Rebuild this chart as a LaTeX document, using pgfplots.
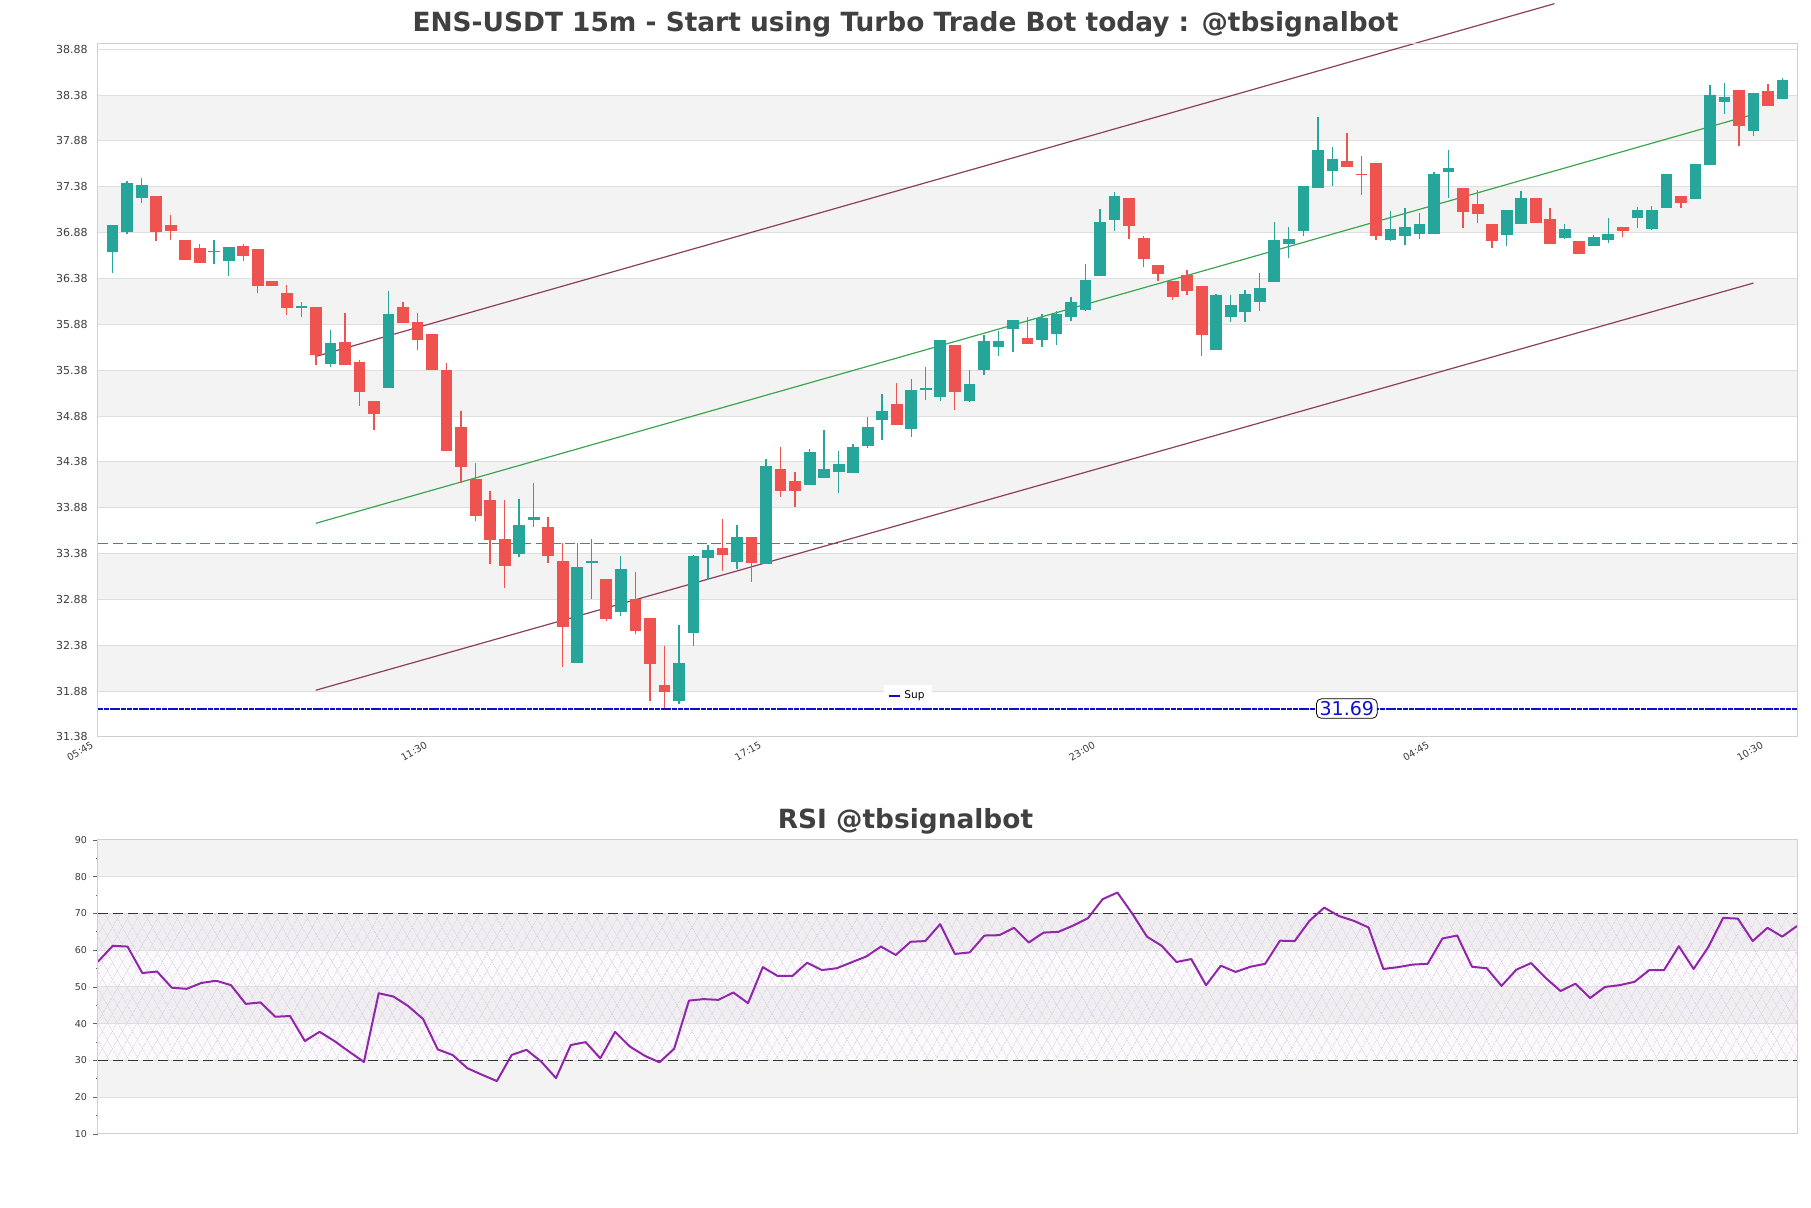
\documentclass[border=0pt]{standalone}
\usepackage{fontspec}
\setmainfont{DejaVu Sans}
\usepackage{pgfplots}
\usepackage{pgfplotstable}
\pgfplotsset{compat=1.18}
\usetikzlibrary{patterns.meta}

\definecolor{cgreen}{RGB}{38,166,154}
\definecolor{cred}{RGB}{239,83,80}
\definecolor{bandc}{RGB}{243,243,243}
\definecolor{gridc}{RGB}{222,222,222}
\definecolor{axisc}{RGB}{208,208,208}
\definecolor{tickc}{RGB}{60,60,60}
\definecolor{titlec}{RGB}{64,64,64}
\definecolor{chanc}{RGB}{140,62,92}
\definecolor{midc}{RGB}{60,165,80}
\definecolor{supc}{RGB}{15,15,200}
\definecolor{lblue}{RGB}{30,140,200}
\definecolor{rsic}{RGB}{145,38,170}
\definecolor{hatchc}{RGB}{208,192,220}
\definecolor{dashc}{RGB}{50,50,50}

\pgfplotstableread{
i o h l c
0 36.68 36.96 36.44 36.96
1 36.89 37.44 36.87 37.42
2 37.26 37.48 37.20 37.39
3 37.28 37.28 36.79 36.89
4 36.96 37.07 36.80 36.90
5 36.79 36.79 36.59 36.59
6 36.71 36.76 36.55 36.55
7 36.67 36.80 36.54 36.68
8 36.575 36.72 36.41 36.72
9 36.73 36.76 36.575 36.63
10 36.70 36.70 36.22 36.30
11 36.35 36.35 36.30 36.31
12 36.22 36.31 35.98 36.065
13 36.06 36.12 35.96 36.075
14 36.06 36.06 35.44 35.55
15 35.45 35.82 35.42 35.67
16 35.68 36.00 35.44 35.44
17 35.47 35.49 34.99 35.15
18 35.04 35.04 34.73 34.905
19 35.19 36.24 35.19 35.99
20 36.07 36.12 35.90 35.905
21 35.905 36.00 35.60 35.72
22 35.775 35.775 35.39 35.39
23 35.38 35.46 34.51 34.51
24 34.76 34.93 34.15 34.33
25 34.19 34.37 33.73 33.80
26 33.96 34.06 33.27 33.54
27 33.53 33.96 33.00 33.25
28 33.38 33.98 33.34 33.69
29 33.75 34.15 33.67 33.78
30 33.665 33.78 33.28 33.36
31 33.30 33.50 32.14 32.59
32 32.19 33.49 32.19 33.23
33 33.28 33.54 32.88 33.29
34 33.10 33.10 32.64 32.67
35 32.75 33.35 32.70 33.21
36 32.88 33.18 32.50 32.54
37 32.67 32.67 31.77 32.18
38 31.94 32.37 31.69 31.88
39 31.78 32.60 31.74 32.18
40 32.52 33.36 32.37 33.35
41 33.335 33.47 33.09 33.42
42 33.44 33.76 33.19 33.37
43 33.30 33.69 33.21 33.56
44 33.56 33.56 33.07 33.28
45 33.27 34.41 33.27 34.33
46 34.30 34.54 34.00 34.07
47 34.17 34.27 33.89 34.07
48 34.13 34.52 34.13 34.48
49 34.21 34.73 34.21 34.30
50 34.28 34.50 34.04 34.35
51 34.26 34.57 34.26 34.54
52 34.56 34.87 34.53 34.76
53 34.84 35.12 34.62 34.93
54 35.01 35.24 34.79 34.79
55 34.74 35.28 34.65 35.16
56 35.17 35.41 35.06 35.18
57 35.09 35.71 35.04 35.70
58 35.65 35.65 34.95 35.15
59 35.05 35.38 35.03 35.22
60 35.39 35.76 35.33 35.69
61 35.64 35.81 35.53 35.69
62 35.84 35.92 35.58 35.92
63 35.73 35.96 35.67 35.67
64 35.72 35.99 35.63 35.95
65 35.78 36.03 35.66 35.99
66 35.97 36.18 35.92 36.12
67 36.04 36.54 36.03 36.36
68 36.41 37.135 36.41 36.996
69 37.02 37.32 36.90 37.28
70 37.25 37.25 36.81 36.96
71 36.82 36.84 36.50 36.60
72 36.52 36.52 36.35 36.44
73 36.35 36.35 36.145 36.19
74 36.41 36.47 36.20 36.25
75 36.29 36.30 35.535 35.77
76 35.61 36.21 35.61 36.20
77 35.97 36.20 35.91 36.09
78 36.02 36.25 35.91 36.21
79 36.13 36.44 36.02 36.27
80 36.35 37.00 36.35 36.80
81 36.76 36.94 36.60 36.81
82 36.90 37.38 36.84 37.38
83 37.37 38.145 37.37 37.78
84 37.56 37.81 37.39 37.68
85 37.66 37.97 37.60 37.60
86 37.52 37.72 37.295 37.51
87 37.63 37.63 36.80 36.85
88 36.81 37.12 36.79 36.91
89 36.85 37.15 36.75 36.94
90 36.87 37.09 36.81 36.975
91 36.87 37.545 36.87 37.51
92 37.545 37.78 37.255 37.585
93 37.36 37.36 36.935 37.11
94 37.19 37.34 36.99 37.09
95 36.975 36.975 36.71 36.80
96 36.86 37.12 36.73 37.12
97 36.98 37.335 36.98 37.25
98 37.255 37.255 36.99 36.99
99 37.02 37.145 36.765 36.765
100 36.825 36.97 36.81 36.91
101 36.78 36.78 36.655 36.655
102 36.74 36.855 36.73 36.83
103 36.81 37.04 36.765 36.86
104 36.94 36.94 36.83 36.90
105 37.05 37.16 36.935 37.12
106 36.93 37.17 36.905 37.12
107 37.16 37.51 37.16 37.51
108 37.28 37.28 37.15 37.21
109 37.25 37.62 37.25 37.62
110 37.62 38.49 37.62 38.38
111 38.31 38.51 38.17 38.36
112 38.43 38.43 37.82 38.05
113 38.00 38.40 37.93 38.40
114 38.415 38.505 38.265 38.265
115 38.34 38.57 38.34 38.545
}\candles

\pgfplotstableread{
i v
0 56.9
1 61.2
2 61.0
3 53.8
4 54.2
5 49.8
6 49.5
7 51.1
8 51.7
9 50.5
10 45.4
11 45.8
12 41.9
13 42.1
14 35.3
15 37.8
16 35.3
17 32.4
18 29.6
19 48.3
20 47.4
21 44.8
22 41.3
23 33.0
24 31.5
25 27.9
26 26.1
27 24.4
28 31.5
29 32.9
30 29.7
31 25.2
32 34.2
33 35.0
34 30.6
35 37.8
36 33.8
37 31.3
38 29.5
39 33.2
40 46.3
41 46.7
42 46.5
43 48.5
44 45.6
45 55.4
46 53.0
47 53.0
48 56.6
49 54.6
50 55.1
51 56.7
52 58.3
53 61.0
54 58.7
55 62.3
56 62.5
57 67.1
58 59.0
59 59.4
60 64.0
61 64.1
62 66.1
63 62.1
64 64.8
65 65.0
66 66.7
67 68.7
68 73.9
69 75.7
70 70.0
71 63.7
72 61.2
73 56.8
74 57.6
75 50.5
76 55.8
77 54.1
78 55.5
79 56.3
80 62.6
81 62.5
82 68.0
83 71.6
84 69.3
85 68.0
86 66.2
87 54.9
88 55.4
89 56.1
90 56.3
91 63.2
92 64.0
93 55.5
94 55.1
95 50.3
96 54.7
97 56.5
98 52.4
99 48.9
100 50.9
101 47.0
102 50.0
103 50.5
104 51.4
105 54.6
106 54.6
107 61.1
108 54.9
109 60.9
110 68.8
111 68.6
112 62.5
113 66.1
114 63.7
115 66.6
}\rsidata

\begin{document}
\begin{tikzpicture}
\path[use as bounding box] (0,0) rectangle (905.5pt,604pt);

% titles
\node[anchor=base, text=titlec, font=\fontsize{13.2}{14}\selectfont\bfseries] at (452.75pt,588.15pt) {ENS-USDT 15m - Start using Turbo Trade Bot today : @tbsignalbot};
\node[anchor=base, text=titlec, font=\fontsize{13.2}{14}\selectfont\bfseries] at (452.75pt,189.5pt) {RSI @tbsignalbot};

% ---------------- main candle chart
\begin{axis}[
  at={(49pt,235.5pt)}, anchor=south west,
  scale only axis, width=849.5pt, height=346.85pt,
  xmin=-1, xmax=116, ymin=31.38, ymax=38.945,
  clip=false, axis on top=true,
  axis line style={draw=axisc, line width=0.5pt},
  major tick length=0pt,
  xtick={-1,22,45,68,91,114},
  xticklabels={05:45,11:30,17:15,23:00,04:45,10:30},
  xticklabel style={font=\fontsize{4.9}{5}\selectfont, text=tickc, inner sep=0pt, xshift=-3.75pt, yshift=-1.6pt, rotate=30, anchor=north east},
  ytick={31.38,31.88,32.38,32.88,33.38,33.88,34.38,34.88,35.38,35.88,36.38,36.88,37.38,37.88,38.38,38.88},
  yticklabels={31.38,31.88,32.38,32.88,33.38,33.88,34.38,34.88,35.38,35.88,36.38,36.88,37.38,37.88,38.38,38.88},
  yticklabel style={font=\fontsize{5.5}{6}\selectfont, text=tickc, inner sep=0pt, anchor=east, xshift=-5pt},
  legend style={at={(axis description cs:0.4768,0.0591)}, anchor=center, draw=none, fill=white,
    font=\fontsize{5.3}{6}\selectfont, inner xsep=2pt, inner ysep=1pt,
    legend image code/.code={\draw[#1, solid, line width=0.8pt] (0pt,0pt) -- (5.5pt,0pt);}},
  legend cell align=left,
]
% bands
\addplot[forget plot, fill=bandc, draw=none] coordinates {(-1,31.88) (116,31.88) (116,32.38) (-1,32.38)} -- cycle;
\addplot[forget plot, fill=bandc, draw=none] coordinates {(-1,32.88) (116,32.88) (116,33.38) (-1,33.38)} -- cycle;
\addplot[forget plot, fill=bandc, draw=none] coordinates {(-1,33.88) (116,33.88) (116,34.38) (-1,34.38)} -- cycle;
\addplot[forget plot, fill=bandc, draw=none] coordinates {(-1,34.88) (116,34.88) (116,35.38) (-1,35.38)} -- cycle;
\addplot[forget plot, fill=bandc, draw=none] coordinates {(-1,35.88) (116,35.88) (116,36.38) (-1,36.38)} -- cycle;
\addplot[forget plot, fill=bandc, draw=none] coordinates {(-1,36.88) (116,36.88) (116,37.38) (-1,37.38)} -- cycle;
\addplot[forget plot, fill=bandc, draw=none] coordinates {(-1,37.88) (116,37.88) (116,38.38) (-1,38.38)} -- cycle;
% grid lines
\pgfplotsinvokeforeach{31.88,32.38,32.88,33.38,33.88,34.38,34.88,35.38,35.88,36.38,36.88,37.38,37.88,38.38,38.88}{
  \addplot[forget plot, draw=gridc, line width=0.5pt] coordinates {(-1,#1) (116,#1)};
}
% light blue dashed level
\addplot[forget plot, draw=lblue, line width=0.7pt, dash pattern=on 5pt off 2.3pt] coordinates {(-1,33.49) (116,33.49)};
% channel
\addplot[forget plot, draw=chanc, line width=0.6pt] coordinates {(14,35.53) (99.3,39.377)};
\addplot[forget plot, draw=chanc, line width=0.6pt] coordinates {(14,31.89) (113,36.33)};
\addplot[forget plot, draw=midc, line width=0.6pt] coordinates {(14,33.71) (113,38.17)};
% candles
\pgfplotsforeachungrouped \r in {0,...,115}{%
  \pgfplotstablegetelem{\r}{i}\of\candles\let\candI\pgfplotsretval
  \pgfplotstablegetelem{\r}{o}\of\candles\let\candO\pgfplotsretval
  \pgfplotstablegetelem{\r}{h}\of\candles\let\candH\pgfplotsretval
  \pgfplotstablegetelem{\r}{l}\of\candles\let\candL\pgfplotsretval
  \pgfplotstablegetelem{\r}{c}\of\candles\let\candC\pgfplotsretval
  \pgfmathtruncatemacro\candUp{\candC>=\candO ? 1 : 0}%
  \ifnum\candUp=1 \def\candCol{cgreen}\else\def\candCol{cred}\fi
  \pgfmathsetmacro\candXl{\candI-0.37}%
  \pgfmathsetmacro\candXr{\candI+0.37}%
  \edef\candTmp{%
    \noexpand\addplot[forget plot, draw=\candCol, line width=0.7pt] coordinates {(\candI,\candL) (\candI,\candH)};%
    \noexpand\addplot[forget plot, fill=\candCol, draw=\candCol, line width=0.4pt] coordinates {(\candXl,\candO) (\candXr,\candO) (\candXr,\candC) (\candXl,\candC)} -- cycle;%
  }%
  \candTmp
}
% support
\addplot[draw=supc, line width=1pt, dash pattern=on 2.5pt off 0.4pt] coordinates {(-1,31.69) (116,31.69)};
\addlegendentry{Sup}
\node[draw=black, rounded corners=2.5pt, fill=white, text=supc, font=\fontsize{9.5}{10}\selectfont, inner xsep=1.6pt, inner ysep=1.3pt, line width=0.4pt] at (axis cs:85,31.69) {31.69};
\end{axis}

% ---------------- RSI
\begin{axis}[
  at={(49pt,37pt)}, anchor=south west,
  scale only axis, width=849.5pt, height=147pt,
  xmin=0, xmax=115, ymin=10, ymax=90,
  axis on top=true,
  axis line style={draw=axisc, line width=0.5pt},
  xtick=\empty,
  ytick={10,20,30,40,50,60,70,80,90},
  yticklabels={10,20,30,40,50,60,70,80,90},
  minor ytick={15,25,35,45,55,65,75,85},
  ytick pos=left, tick align=outside,
  major tick length=2.3pt, minor tick length=1.2pt,
  tick style={draw=tickc!80, line width=0.45pt},
  yticklabel style={font=\fontsize{4.75}{5}\selectfont, text=tickc, inner sep=0pt, anchor=east, xshift=-3pt},
]
\addplot[forget plot, fill=bandc, draw=none] coordinates {(0,80) (115,80) (115,90) (0,90)} -- cycle;
\addplot[forget plot, fill=bandc, draw=none] coordinates {(0,60) (115,60) (115,70) (0,70)} -- cycle;
\addplot[forget plot, fill=bandc, draw=none] coordinates {(0,40) (115,40) (115,50) (0,50)} -- cycle;
\addplot[forget plot, fill=bandc, draw=none] coordinates {(0,20) (115,20) (115,30) (0,30)} -- cycle;
\addplot[forget plot, draw=none, fill=rsic, fill opacity=0.025] coordinates {(0,30) (115,30) (115,70) (0,70)} -- cycle;
\addplot[forget plot, draw=none, pattern={Lines[angle=60,distance=4pt,line width=0.28pt]}, pattern color=hatchc] coordinates {(0,30) (115,30) (115,70) (0,70)} -- cycle;
\addplot[forget plot, draw=none, pattern={Lines[angle=-60,distance=4pt,line width=0.28pt]}, pattern color=hatchc] coordinates {(0,30) (115,30) (115,70) (0,70)} -- cycle;
\pgfplotsinvokeforeach{20,30,40,50,60,70,80}{
  \addplot[forget plot, draw=gridc, line width=0.5pt] coordinates {(0,#1) (115,#1)};
}
\addplot[forget plot, draw=dashc, line width=0.6pt, dash pattern=on 5pt off 2.5pt] coordinates {(0,70) (115,70)};
\addplot[forget plot, draw=dashc, line width=0.6pt, dash pattern=on 5pt off 2.5pt] coordinates {(0,30) (115,30)};
\addplot[forget plot, draw=rsic, line width=1pt, line join=round] table[x=i, y=v] {\rsidata};
\end{axis}
\end{tikzpicture}
\end{document}
